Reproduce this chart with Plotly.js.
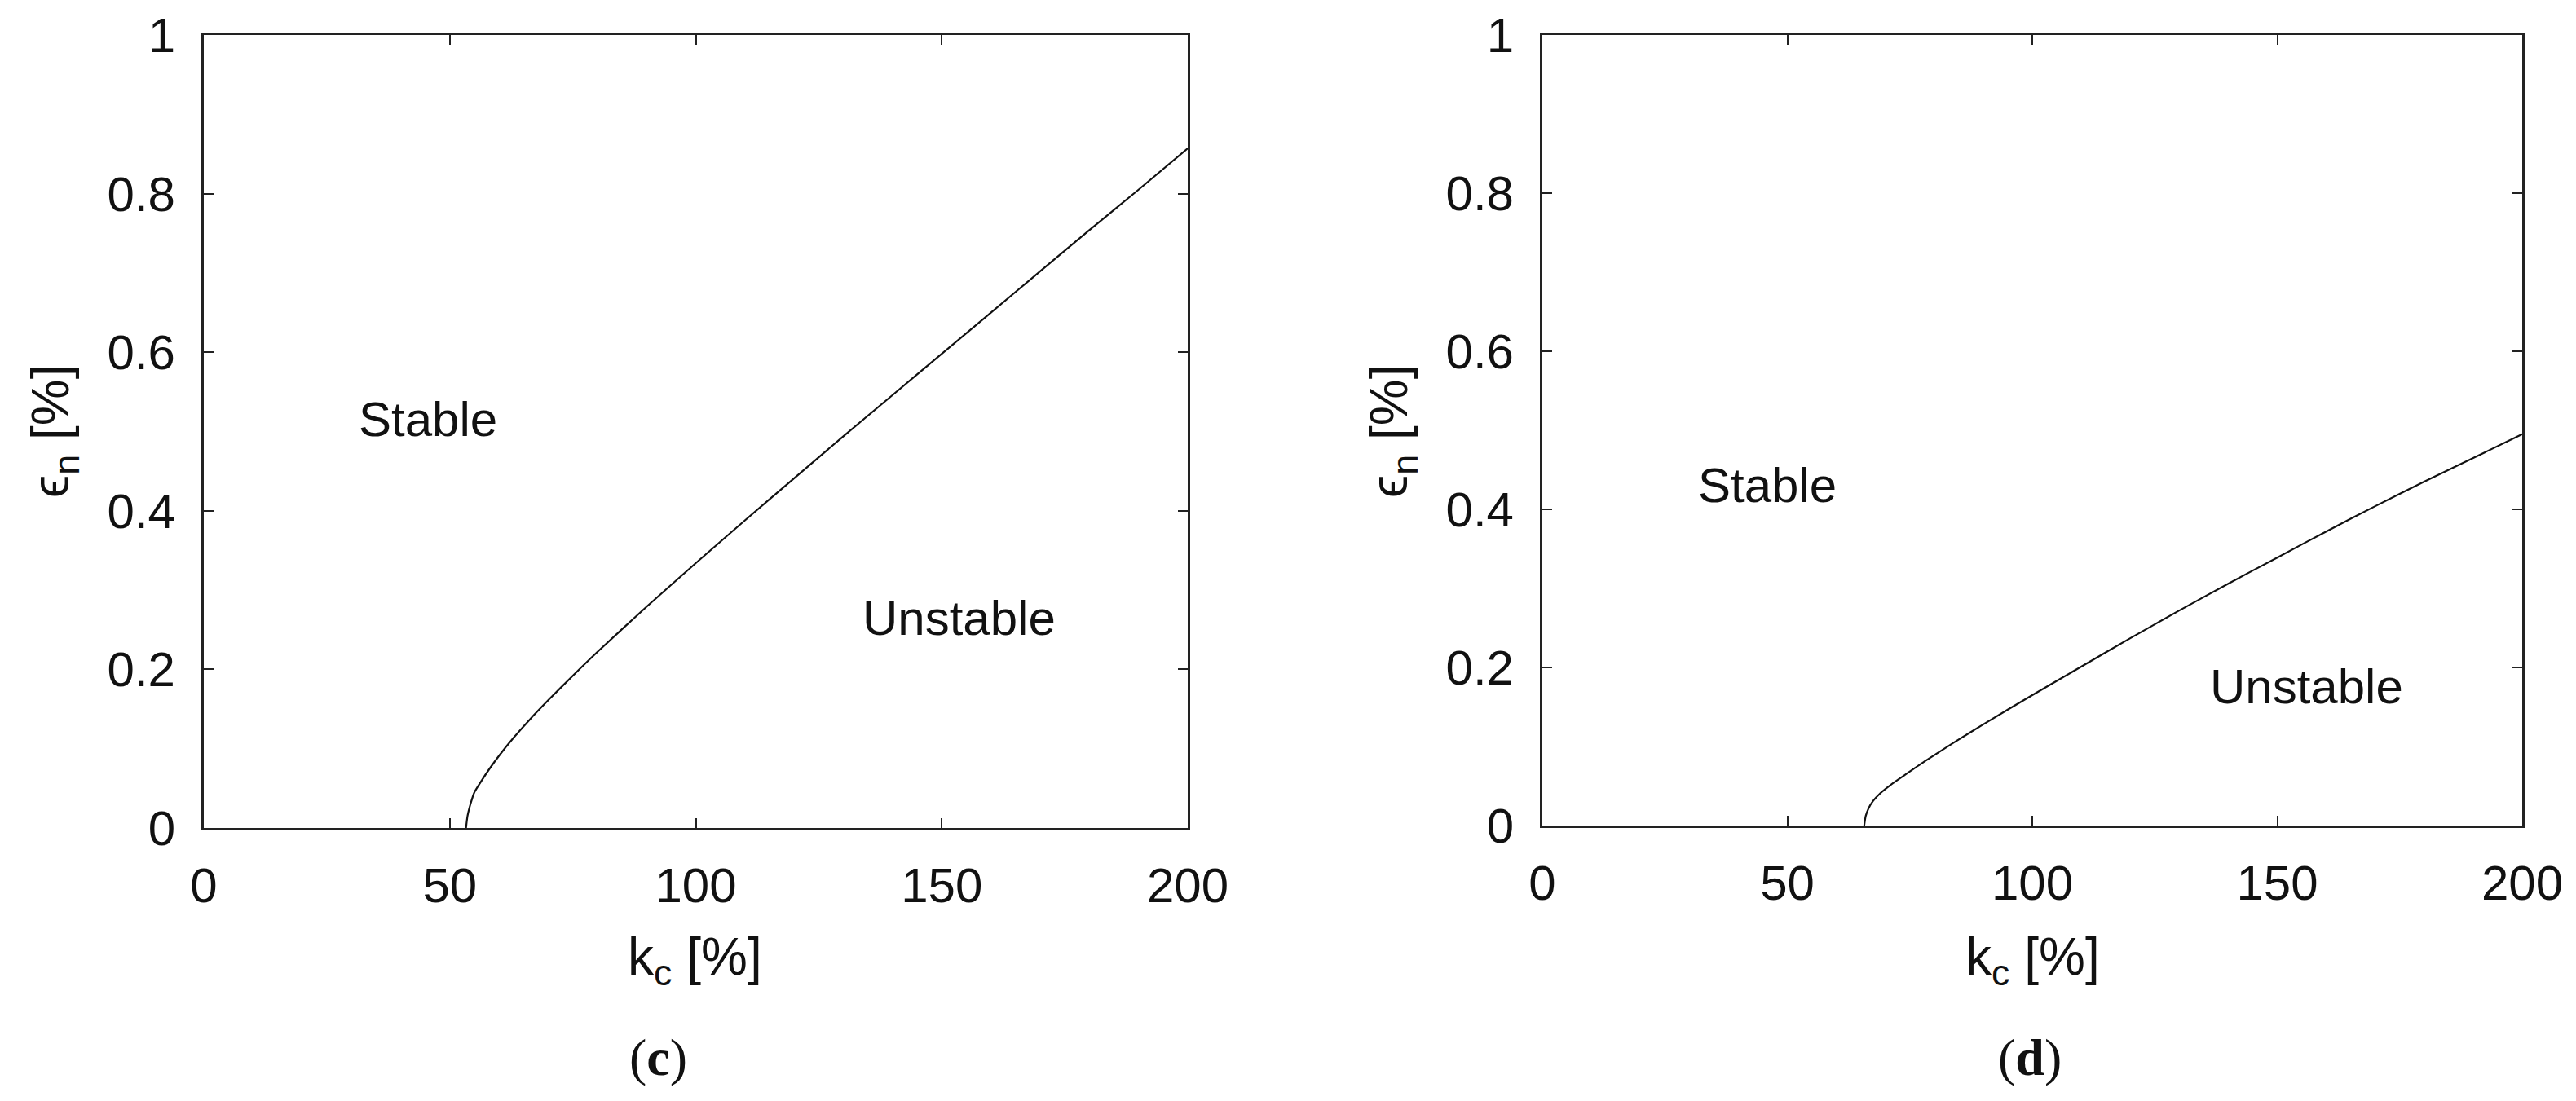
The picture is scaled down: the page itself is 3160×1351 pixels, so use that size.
<!DOCTYPE html>
<html>
<head>
<meta charset="utf-8">
<script src="https://cdn.plot.ly/plotly-3.0.1.min.js"></script>
<style>html,body{margin:0;padding:0;background:#fff;}#plot{width:3160px;height:1351px;}</style>
</head>
<body>
<div id="plot"></div>
<script>
// Panel (c)
const kcC = [53.3, 53.6, 54.2, 55, 56.5, 58, 60, 63, 66, 70, 75, 80, 90, 100, 110, 120, 130, 140, 150, 160, 170, 180, 190, 200];
const epsC = [0, 0.015, 0.03, 0.045, 0.06, 0.074, 0.091, 0.114, 0.135, 0.161, 0.192, 0.222, 0.279, 0.334, 0.388, 0.441, 0.494, 0.546, 0.598, 0.65, 0.702, 0.754, 0.805, 0.857];
// Panel (d)
const kcD = [65.7, 66, 66.6, 67.5, 69, 71, 74, 78, 84, 90, 100, 110, 120, 130, 140, 150, 160, 170, 180, 190, 200];
const epsD = [0, 0.012, 0.022, 0.031, 0.041, 0.051, 0.064, 0.081, 0.105, 0.128, 0.165, 0.201, 0.237, 0.272, 0.306, 0.339, 0.372, 0.404, 0.435, 0.465, 0.495];

const xTicks = [0, 50, 100, 150, 200];
const yTicks = [0, 0.2, 0.4, 0.6, 0.8, 1];
const yTickText = ['0', '0.2', '0.4', '0.6', '0.8', '1'];
const panelLabels = ['c', 'd'];
const regionLabels = ['Stable', 'Unstable'];
const xTitle = 'k<sub>c</sub> [%]';
const yTitle = 'ϵ<sub>n</sub> [%]';

const W = 3160, H = 1351;
const FONT = 'Liberation Sans, Arial, sans-serif';
const px = v => v / W;
const py = v => 1 - v / H;

function xaxisDef(l, r, anchor) {
  return {
    domain: [px(l), px(r)], anchor: anchor, range: [0, 200],
    tickvals: xTicks, ticktext: xTicks.map(String),
    ticks: 'inside', ticklen: 12, tickwidth: 2, tickcolor: '#222',
    showline: true, linecolor: '#222', linewidth: 3, mirror: 'allticks',
    showgrid: false, zeroline: false,
    ticklabelstandoff: 16,
    tickfont: {family: FONT, size: 60, color: '#111'}
  };
}
function yaxisDef(t, b, anchor) {
  return {
    domain: [py(b), py(t)], anchor: anchor, range: [0, 1],
    tickvals: yTicks, ticktext: yTickText,
    ticks: 'inside', ticklen: 12, tickwidth: 2, tickcolor: '#222',
    showline: true, linecolor: '#222', linewidth: 3, mirror: 'allticks',
    showgrid: false, zeroline: false,
    ticklabelstandoff: 20,
    tickfont: {family: FONT, size: 60, color: '#111'}
  };
}

const traces = [
  {x: kcC, y: epsC, xaxis: 'x', yaxis: 'y', mode: 'lines', line: {color: '#111', width: 2.2, shape: 'spline', smoothing: 0.6}, showlegend: false, hoverinfo: 'skip'},
  {x: kcD, y: epsD, xaxis: 'x2', yaxis: 'y2', mode: 'lines', line: {color: '#111', width: 2.2, shape: 'spline', smoothing: 0.6}, showlegend: false, hoverinfo: 'skip'}
];

const txt = (s, size) => ({family: FONT, size: size || 60, color: '#111'});

const ann = (o) => Object.assign({showarrow: false, xanchor: 'center', yanchor: 'middle'}, o);

const annotations = [
  // region labels
  ann({xref: 'x', yref: 'y', x: 45.6, y: 0.515, text: regionLabels[0], font: txt()}),
  ann({xref: 'x', yref: 'y', x: 153.6, y: 0.265, text: regionLabels[1], font: txt()}),
  ann({xref: 'x2', yref: 'y2', x: 46, y: 0.43, text: regionLabels[0], font: txt()}),
  ann({xref: 'x2', yref: 'y2', x: 156, y: 0.176, text: regionLabels[1], font: txt()}),
  // x titles
  ann({xref: 'paper', yref: 'paper', x: px(852), y: py(1178), text: xTitle, font: txt(0, 64)}),
  ann({xref: 'paper', yref: 'paper', x: px(2493), y: py(1178), text: xTitle, font: txt(0, 64)}),
  // y titles
  ann({xref: 'paper', yref: 'paper', x: px(66), y: py(530), textangle: -90, text: yTitle, font: txt(0, 64)}),
  ann({xref: 'paper', yref: 'paper', x: px(1708), y: py(530), textangle: -90, text: yTitle, font: txt(0, 64)}),
  // panel labels
  ann({xref: 'paper', yref: 'paper', x: px(808), y: py(1297), text: '(<b>' + panelLabels[0] + '</b>)', font: {family: 'Liberation Serif, Times New Roman, serif', size: 64, color: '#111'}}),
  ann({xref: 'paper', yref: 'paper', x: px(2490), y: py(1297), text: '(<b>' + panelLabels[1] + '</b>)', font: {family: 'Liberation Serif, Times New Roman, serif', size: 64, color: '#111'}})
];

const layout = {
  width: W, height: H,
  margin: {l: 0, r: 0, t: 0, b: 0},
  paper_bgcolor: '#fff', plot_bgcolor: '#fff',
  showlegend: false,
  xaxis: xaxisDef(250, 1457, 'y'),
  yaxis: yaxisDef(43, 1016, 'x'),
  xaxis2: xaxisDef(1892, 3094, 'y2'),
  yaxis2: yaxisDef(43, 1013, 'x2'),
  annotations: annotations
};

Plotly.newPlot('plot', traces, layout, {displayModeBar: false, staticPlot: true});
</script>
</body>
</html>
